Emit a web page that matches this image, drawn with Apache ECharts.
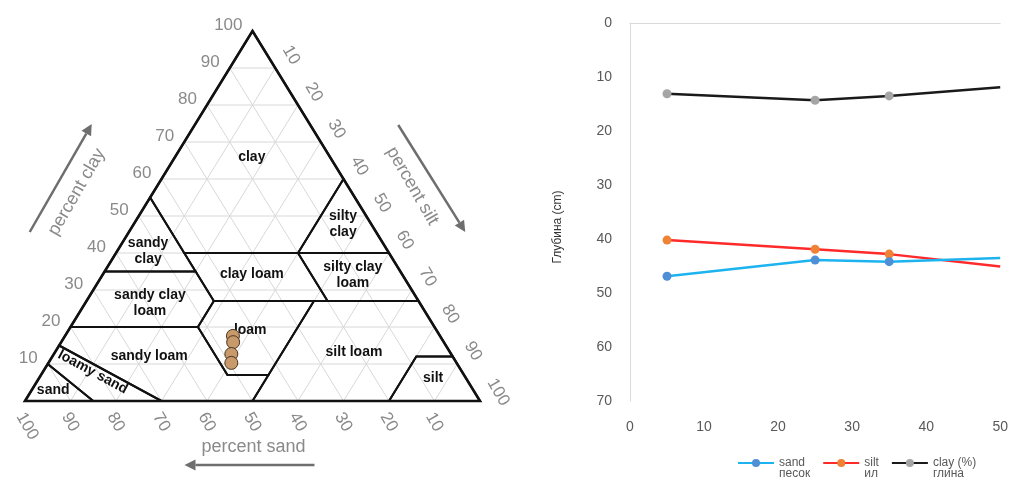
<!DOCTYPE html>
<html><head><meta charset="utf-8">
<script src="https://cdn.jsdelivr.net/npm/echarts@6/dist/echarts.min.js"></script>
<style>html,body{margin:0;padding:0;background:#fff}#c{width:1011px;height:477px}</style>
</head><body><div id="c"></div>
<script>
// ---------- Soil texture triangle (USDA) ----------
const gridValues = [10, 20, 30, 40, 50, 60, 70, 80, 90];
const tickValues = [10, 20, 30, 40, 50, 60, 70, 80, 90, 100];
const classNames = ['clay', 'silty\nclay', 'sandy\nclay', 'clay loam', 'silty clay\nloam', 'sandy clay\nloam',
  'loam', 'sandy loam', 'silt loam', 'silt', 'loamy sand', 'sand'];
// class polygon vertices as [clay %, silt %]
const classVertices = [
  [[100, 0], [55, 0], [40, 15], [40, 40], [60, 40]],
  [[60, 40], [40, 40], [40, 60]],
  [[55, 0], [35, 0], [35, 20], [40, 15]],
  [[40, 40], [40, 15], [27, 28], [27, 53]],
  [[40, 60], [40, 40], [27, 53], [27, 73]],
  [[35, 0], [20, 0], [20, 28], [27, 28], [35, 20]],
  [[27, 28], [20, 28], [7, 41], [7, 50], [27, 50]],
  [[20, 0], [20, 28], [7, 41], [7, 50], [0, 50], [0, 30], [15, 0]],
  [[27, 50], [7, 50], [0, 50], [0, 80], [12, 80], [12, 88], [27, 73]],
  [[12, 80], [0, 80], [0, 100], [12, 88]],
  [[15, 0], [0, 30], [0, 15], [10, 0]],
  [[10, 0], [0, 15], [0, 0]]
];
// class label anchor as [clay %, silt %]
const classLabelPos = [[65.9, 16.9], [47.8, 46.0], [40.5, 6.8], [34.3, 32.7], [34.1, 55.0], [26.5, 14.2],
  [19.2, 39.9], [12.2, 21.2], [13.2, 65.7], [6.2, 86.6], [7.8, 11.0], [3.0, 4.7]];
// samples plotted on the triangle
const sampleClay = [17.6, 15.9, 12.7, 10.3];
const sampleSilt = [36.9, 37.8, 39.0, 40.2];

// ---------- Depth profile ----------
const depth = [5, 25, 35, 50];
const sandPct = [46.9, 43.9, 44.2, 43.5];
const siltPct = [40.2, 41.9, 42.8, 45.1];
const clayPct = [13.1, 14.3, 13.5, 11.9];
const seriesNames = ['sand\nпесок', 'silt\nил', 'clay (%)\nглина'];

const FONT = '"Liberation Sans", Arial, sans-serif';
const GRAY_TXT = '#8a8a8a';

function tern(api, clay, silt) { return api.coord([silt + clay / 2, clay]); }

function arrow(a, b, color) {
  const dx = b[0] - a[0], dy = b[1] - a[1], L = Math.hypot(dx, dy);
  const ux = dx / L, uy = dy / L, nx = -uy, ny = ux, hl = 11, hw = 5.5;
  const bx = b[0] - ux * hl, by = b[1] - uy * hl;
  return [
    { type: 'line', shape: { x1: a[0], y1: a[1], x2: bx, y2: by }, style: { stroke: color, lineWidth: 2.5 } },
    { type: 'polygon', shape: { points: [b, [bx + nx * hw, by + ny * hw], [bx - nx * hw, by - ny * hw]] }, style: { fill: color } }
  ];
}

const chart = echarts.init(document.getElementById('c'), null, { renderer: 'canvas' });

const lineSeries = [sandPct, siltPct, clayPct].map((vals, k) => {
  const lineColors = ['#1db3ef', '#ff2a2a', '#1a1a1a'];
  const markColors = ['#4e8fd6', '#ee8235', '#a5a5a5'];
  return {
    type: 'line', name: seriesNames[k], xAxisIndex: 1, yAxisIndex: 1,
    data: depth.map((d, i) => i === depth.length - 1 ? { value: [d, vals[i]], symbol: 'none' } : [d, vals[i]]),
    symbol: 'circle', symbolSize: 9, showAllSymbol: true,
    lineStyle: { color: lineColors[k], width: 2.5 },
    itemStyle: { color: markColors[k] },
    z: 5 - k
  };
});

chart.setOption({
  animation: false,
  grid: [
    { left: 25, top: 31, width: 455, height: 370 },
    { left: 630, top: 23, width: 372, height: 378 }
  ],
  xAxis: [
    { gridIndex: 0, type: 'value', min: 0, max: 100, show: false },
    { gridIndex: 1, type: 'value', min: 0, max: 50, interval: 10,
      axisLine: { show: true, lineStyle: { color: '#d9d9d9', width: 1 } },
      axisTick: { show: false }, splitLine: { show: false },
      axisLabel: { color: '#595959', fontSize: 14, margin: 19, fontFamily: FONT } }
  ],
  yAxis: [
    { gridIndex: 0, type: 'value', min: 0, max: 100, show: false },
    { gridIndex: 1, type: 'value', min: 0, max: 70, interval: 10, inverse: true,
      axisLine: { show: true, lineStyle: { color: '#d9d9d9', width: 1 } },
      axisTick: { show: false }, splitLine: { show: false },
      axisLabel: { color: '#595959', fontSize: 14, margin: 18, fontFamily: FONT },
      name: 'Глубина (cm)', nameLocation: 'middle', nameGap: 66,
      nameTextStyle: { color: '#333', fontSize: 12, fontFamily: FONT, padding: [0, 30, 0, 0] } }
  ],
  legend: {
    data: seriesNames, left: 732, top: 441, itemWidth: 36, itemHeight: 10, itemGap: 12,
    formatter: name => '\n' + name,
    textStyle: { color: '#595959', fontSize: 12, fontFamily: FONT, lineHeight: 11 }
  },
  series: [
    { // grid lines
      type: 'custom', xAxisIndex: 0, yAxisIndex: 0, silent: true, z: 1,
      data: gridValues.map(v => [v, v]),
      renderItem: (params, api) => {
        const v = gridValues[params.dataIndex];
        const segs = [
          [tern(api, v, 0), tern(api, v, 100 - v)],
          [tern(api, 0, v), tern(api, 100 - v, v)],
          [tern(api, 0, 100 - v), tern(api, 100 - v, 0)]
        ];
        return { type: 'group', children: segs.map(s => ({ type: 'line',
          shape: { x1: s[0][0], y1: s[0][1], x2: s[1][0], y2: s[1][1] },
          style: { stroke: '#d8d8d8', lineWidth: 1 } })) };
      }
    },
    { // class boundaries
      type: 'custom', xAxisIndex: 0, yAxisIndex: 0, silent: true, z: 2,
      data: classVertices.map((_, i) => [i, i]),
      renderItem: (params, api) => {
        const pts = classVertices[params.dataIndex].map(p => tern(api, p[0], p[1]));
        return { type: 'polygon', shape: { points: pts },
          style: { fill: 'none', stroke: '#111', lineWidth: 2, lineJoin: 'miter' } };
      }
    },
    { // outer triangle
      type: 'custom', xAxisIndex: 0, yAxisIndex: 0, silent: true, z: 3,
      data: [[0, 0]],
      renderItem: (params, api) => ({ type: 'polygon',
        shape: { points: [tern(api, 0, 0), tern(api, 100, 0), tern(api, 0, 100)] },
        style: { fill: 'none', stroke: '#111', lineWidth: 2.6 } })
    },
    { // class labels
      type: 'custom', xAxisIndex: 0, yAxisIndex: 0, silent: true, z: 4,
      data: classNames.map((_, i) => [i, i]),
      renderItem: (params, api) => {
        const i = params.dataIndex;
        const p = tern(api, classLabelPos[i][0], classLabelPos[i][1]);
        let rot = 0;
        if (classNames[i] === 'loamy sand') {
          const a = tern(api, classVertices[i][0][0], classVertices[i][0][1]);
          const b = tern(api, classVertices[i][1][0], classVertices[i][1][1]);
          rot = -Math.atan2(b[1] - a[1], b[0] - a[0]);
        }
        return { type: 'text', x: p[0], y: p[1], rotation: rot,
          style: { text: classNames[i], fill: '#111', fontSize: 14, fontWeight: 'bold', fontFamily: FONT,
            lineHeight: 16, align: 'center', verticalAlign: 'middle' } };
      }
    },
    { // tick labels
      type: 'custom', xAxisIndex: 0, yAxisIndex: 0, silent: true, z: 4,
      data: tickValues.map(v => [v, v]),
      renderItem: (params, api) => {
        const v = tickValues[params.dataIndex];
        const st = { fill: GRAY_TXT, fontSize: 17, fontFamily: FONT, verticalAlign: 'middle' };
        const pc = tern(api, v, 0), ps = tern(api, 100 - v, v), pd = tern(api, 0, 100 - v);
        return { type: 'group', children: [
          { type: 'text', x: pc[0] - 10, y: pc[1] - 6, style: Object.assign({ text: String(v), align: 'right' }, st) },
          { type: 'text', x: ps[0] + 11, y: ps[1] - 21, rotation: -Math.PI / 3, style: Object.assign({ text: String(v), align: 'left' }, st) },
          { type: 'text', x: pd[0] - 5, y: pd[1] + 13, rotation: -Math.PI / 3, style: Object.assign({ text: String(v), align: 'left' }, st) }
        ] };
      }
    },
    { // axis titles and arrows
      type: 'custom', xAxisIndex: 0, yAxisIndex: 0, silent: true, z: 4,
      data: [[0, 0]],
      renderItem: (params, api) => {
        const L = tern(api, 50, 0), R = tern(api, 50, 50), B = tern(api, 0, 50);
        const ac = '#6e6e6e';
        const tst = { fill: GRAY_TXT, fontSize: 18, fontFamily: FONT, align: 'center', verticalAlign: 'middle' };
        return { type: 'group', children: [
          ...arrow([L[0] - 109, L[1] + 16], [L[0] - 47, L[1] - 92], ac),
          ...arrow([R[0] + 32, R[1] - 91], [R[0] + 99, R[1] + 16], ac),
          ...arrow([B[0] + 62, B[1] + 64], [B[0] - 68, B[1] + 64], ac),
          { type: 'text', x: L[0] - 62, y: L[1] - 24, rotation: Math.PI / 3, style: Object.assign({ text: 'percent clay' }, tst) },
          { type: 'text', x: R[0] + 46, y: R[1] - 30, rotation: -Math.PI / 3, style: Object.assign({ text: 'percent silt' }, tst) },
          { type: 'text', x: B[0] + 1, y: B[1] + 46, style: Object.assign({ text: 'percent sand' }, tst) }
        ] };
      }
    },
    { // samples
      type: 'scatter', xAxisIndex: 0, yAxisIndex: 0, z: 6, silent: true,
      data: sampleClay.map((c, i) => [sampleSilt[i] + c / 2, c]),
      symbol: 'circle', symbolSize: 13,
      itemStyle: { color: '#c8996a', borderColor: '#4a3520', borderWidth: 1, opacity: 1 }
    },
    ...lineSeries
  ]
});
</script>
</body></html>
